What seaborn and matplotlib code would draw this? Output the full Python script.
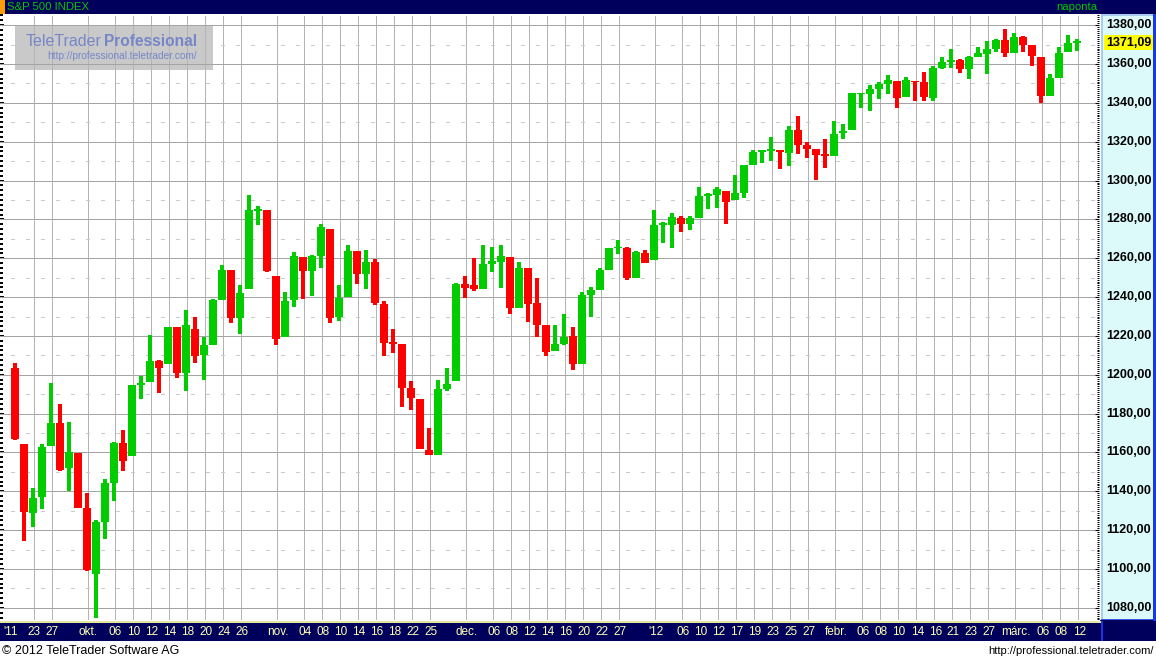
import matplotlib
matplotlib.use("Agg")
import matplotlib.pyplot as plt
from matplotlib.patches import Rectangle
from matplotlib.ticker import MultipleLocator
import seaborn as sns

# S&P 500 daily candles, 2011-09-21 .. 2012-03-12
dates = [
    "2011-09-21", "2011-09-22", "2011-09-23", "2011-09-26", "2011-09-27", "2011-09-28", "2011-09-29", "2011-09-30",
    "2011-10-03", "2011-10-04", "2011-10-05", "2011-10-06", "2011-10-07", "2011-10-10", "2011-10-11", "2011-10-12",
    "2011-10-13", "2011-10-14", "2011-10-17", "2011-10-18", "2011-10-19", "2011-10-20", "2011-10-21", "2011-10-24",
    "2011-10-25", "2011-10-26", "2011-10-27", "2011-10-28", "2011-10-31",
    "2011-11-01", "2011-11-02", "2011-11-03", "2011-11-04", "2011-11-07", "2011-11-08", "2011-11-09", "2011-11-10",
    "2011-11-11", "2011-11-14", "2011-11-15", "2011-11-16", "2011-11-17", "2011-11-18", "2011-11-21", "2011-11-22",
    "2011-11-23", "2011-11-25", "2011-11-28", "2011-11-29", "2011-11-30",
    "2011-12-01", "2011-12-02", "2011-12-05", "2011-12-06", "2011-12-07", "2011-12-08", "2011-12-09", "2011-12-12",
    "2011-12-13", "2011-12-14", "2011-12-15", "2011-12-16", "2011-12-19", "2011-12-20", "2011-12-21", "2011-12-22",
    "2011-12-23", "2011-12-27", "2011-12-28", "2011-12-29", "2011-12-30",
    "2012-01-03", "2012-01-04", "2012-01-05", "2012-01-06", "2012-01-09", "2012-01-10", "2012-01-11", "2012-01-12",
    "2012-01-13", "2012-01-17", "2012-01-18", "2012-01-19", "2012-01-20", "2012-01-23", "2012-01-24", "2012-01-25",
    "2012-01-26", "2012-01-27", "2012-01-30", "2012-01-31",
    "2012-02-01", "2012-02-02", "2012-02-03", "2012-02-06", "2012-02-07", "2012-02-08", "2012-02-09", "2012-02-10",
    "2012-02-13", "2012-02-14", "2012-02-15", "2012-02-16", "2012-02-17", "2012-02-21", "2012-02-22", "2012-02-23",
    "2012-02-24", "2012-02-27", "2012-02-28", "2012-02-29",
    "2012-03-01", "2012-03-02", "2012-03-05", "2012-03-06", "2012-03-07", "2012-03-08", "2012-03-09", "2012-03-12",
]

opens = [
    1203.63, 1164.55, 1128.82, 1136.91, 1163.32, 1175.39, 1151.74, 1159.93,
    1131.21, 1097.42, 1124.03, 1144.11, 1165.03, 1158.15, 1194.60, 1196.19, 1206.96, 1205.65, 1224.47, 1200.75,
    1223.46, 1209.92, 1215.39, 1238.72, 1254.19, 1229.17, 1243.97, 1284.39, 1284.96,
    1251.00, 1219.62, 1238.25, 1260.82, 1253.21, 1261.12, 1275.18, 1229.59, 1240.12, 1263.85, 1251.70, 1257.81,
    1236.56, 1216.19, 1215.62, 1192.98, 1187.48, 1161.41, 1158.67, 1192.56, 1196.72,
    1246.91, 1246.03, 1244.33, 1257.19, 1258.14, 1260.87, 1234.48, 1255.05, 1236.83, 1225.73, 1212.12, 1216.09,
    1219.74, 1205.72, 1241.25, 1243.72, 1254.00, 1265.02, 1265.38, 1249.75, 1262.82,
    1258.86, 1277.03, 1277.30, 1280.93, 1277.83, 1280.77, 1292.02, 1292.48, 1294.82, 1290.22, 1293.65, 1308.07,
    1314.49, 1315.29, 1315.96, 1314.40, 1326.28, 1318.25, 1316.16, 1313.53,
    1312.45, 1324.24, 1326.21, 1344.32, 1344.33, 1347.04, 1349.97, 1351.21, 1343.06, 1351.30, 1350.52, 1342.61,
    1358.06, 1361.22, 1362.11, 1357.53, 1363.46, 1365.20, 1367.56, 1372.20,
    1365.90, 1374.09, 1369.59, 1363.63, 1343.39, 1352.65, 1365.97, 1370.78,
]

highs = [
    1206.30, 1164.55, 1141.72, 1164.19, 1195.86, 1184.71, 1175.87, 1159.93,
    1138.99, 1125.12, 1146.07, 1165.55, 1171.40, 1194.91, 1199.24, 1220.25, 1207.46, 1224.61, 1224.47, 1233.10,
    1229.64, 1219.53, 1239.03, 1256.55, 1254.19, 1246.28, 1292.66, 1287.08, 1284.96,
    1251.00, 1242.48, 1263.21, 1260.82, 1261.70, 1277.55, 1275.18, 1246.22, 1266.98, 1263.85, 1264.25, 1259.61,
    1237.73, 1223.51, 1215.62, 1196.81, 1187.48, 1172.66, 1197.35, 1203.67, 1247.11,
    1251.09, 1260.08, 1266.73, 1266.03, 1267.06, 1260.87, 1258.25, 1255.05, 1249.86, 1225.73, 1225.60, 1231.04,
    1224.57, 1242.82, 1245.09, 1255.22, 1265.42, 1269.37, 1265.85, 1263.54, 1264.12,
    1284.62, 1278.73, 1283.05, 1281.84, 1281.99, 1296.46, 1293.80, 1296.82, 1294.82, 1303.00, 1308.11, 1315.49,
    1315.38, 1322.28, 1315.96, 1328.30, 1333.47, 1320.06, 1316.16, 1321.41,
    1330.52, 1329.19, 1345.34, 1344.36, 1349.24, 1351.00, 1354.32, 1351.21, 1353.35, 1351.30, 1355.87, 1359.02,
    1363.40, 1367.76, 1362.70, 1364.24, 1368.92, 1371.94, 1373.09, 1378.04,
    1376.17, 1374.53, 1369.59, 1363.63, 1354.85, 1368.72, 1374.76, 1373.04,
]

lows = [
    1166.21, 1114.22, 1121.36, 1131.07, 1163.32, 1150.40, 1139.93, 1131.34,
    1098.92, 1074.77, 1115.68, 1134.95, 1150.26, 1158.15, 1187.30, 1196.19, 1190.58, 1205.65, 1198.55, 1191.48,
    1206.31, 1197.34, 1215.39, 1238.72, 1226.79, 1221.06, 1243.97, 1277.01, 1253.16,
    1215.42, 1219.62, 1234.81, 1238.92, 1240.75, 1254.99, 1226.64, 1227.70, 1240.12, 1246.68, 1244.34, 1235.67,
    1209.43, 1211.36, 1183.16, 1181.65, 1161.79, 1158.66, 1158.67, 1191.80, 1196.72,
    1239.73, 1243.35, 1244.33, 1253.03, 1244.80, 1231.47, 1234.48, 1227.25, 1219.43, 1209.47, 1212.12, 1215.20,
    1202.37, 1205.72, 1229.51, 1243.72, 1254.00, 1262.30, 1248.64, 1249.75, 1257.46,
    1258.86, 1268.10, 1265.26, 1273.34, 1274.55, 1280.77, 1285.41, 1285.77, 1277.58, 1290.22, 1290.99, 1308.07,
    1309.17, 1309.89, 1306.06, 1307.65, 1313.60, 1311.72, 1300.49, 1306.69,
    1312.45, 1321.57, 1326.21, 1337.52, 1335.92, 1341.95, 1344.63, 1337.35, 1343.06, 1340.83, 1340.80, 1341.22,
    1357.24, 1358.11, 1355.53, 1352.28, 1363.46, 1354.92, 1365.97, 1363.81,
    1365.90, 1366.42, 1359.13, 1340.03, 1343.39, 1352.65, 1365.97, 1366.69,
]

closes = [
    1166.76, 1129.56, 1136.43, 1162.95, 1175.38, 1151.06, 1160.40, 1131.42,
    1099.23, 1123.95, 1144.03, 1164.97, 1155.46, 1194.89, 1195.54, 1207.25, 1203.66, 1224.58, 1200.86, 1225.38,
    1209.88, 1215.39, 1238.25, 1254.19, 1229.05, 1242.00, 1284.59, 1285.09, 1253.30,
    1218.28, 1237.90, 1261.15, 1253.23, 1261.12, 1275.92, 1229.10, 1239.69, 1263.85, 1251.78, 1257.81, 1236.91,
    1216.13, 1215.65, 1192.98, 1188.04, 1161.79, 1158.67, 1192.55, 1195.19, 1246.96,
    1244.58, 1244.28, 1257.08, 1258.47, 1261.01, 1234.35, 1255.19, 1236.47, 1225.73, 1211.82, 1215.75, 1219.66,
    1205.35, 1241.30, 1243.72, 1254.00, 1265.33, 1265.43, 1249.64, 1263.02, 1257.60,
    1277.06, 1277.30, 1281.06, 1277.81, 1280.70, 1292.08, 1292.48, 1295.50, 1289.09, 1293.67, 1308.04, 1314.50,
    1315.38, 1316.00, 1314.65, 1326.06, 1318.43, 1316.33, 1313.01, 1312.41,
    1324.09, 1325.54, 1344.90, 1344.33, 1347.05, 1349.96, 1351.95, 1342.64, 1351.77, 1350.50, 1343.23, 1358.04,
    1361.23, 1362.21, 1357.66, 1363.46, 1365.74, 1367.59, 1372.18, 1365.68,
    1374.09, 1369.63, 1364.33, 1343.36, 1352.63, 1365.91, 1370.87, 1371.09,
]

# date axis labels
label_dates = [
    "2011-09-23", "2011-09-27",
    "2011-10-03", "2011-10-06", "2011-10-10", "2011-10-12", "2011-10-14", "2011-10-18", "2011-10-20", "2011-10-24", "2011-10-26",
    "2011-11-01", "2011-11-04", "2011-11-08", "2011-11-10", "2011-11-14", "2011-11-16", "2011-11-18", "2011-11-22", "2011-11-25",
    "2011-12-01", "2011-12-06", "2011-12-08", "2011-12-12", "2011-12-14", "2011-12-16", "2011-12-20", "2011-12-22", "2011-12-27",
    "2012-01-03", "2012-01-06", "2012-01-10", "2012-01-12", "2012-01-17", "2012-01-19", "2012-01-23", "2012-01-25", "2012-01-27",
    "2012-02-01", "2012-02-06", "2012-02-08", "2012-02-10", "2012-02-14", "2012-02-16", "2012-02-21", "2012-02-23", "2012-02-27",
    "2012-03-01", "2012-03-06", "2012-03-08", "2012-03-12",
]
label_texts = [
    "23", "27",
    "okt.", "06", "10", "12", "14", "18", "20", "24", "26",
    "nov.", "04", "08", "10", "14", "16", "18", "22", "25",
    "dec.", "06", "08", "12", "14", "16", "20", "22", "27",
    "'12", "06", "10", "12", "17", "19", "23", "25", "27",
    "febr.", "06", "08", "10", "14", "16", "21", "23", "27",
    "márc.", "06", "08", "12",
]
year_label = "'11"

price_ticks = list(range(1080, 1381, 20))
title = "S&P 500 INDEX"
period = "naponta"

sns.set_theme(style="white")
plt.rcParams["font.family"] = ["Liberation Sans", "DejaVu Sans"]

W, H = 1156, 659
NAVY = "#00005c"
GREEN = "#00cc00"
RED = "#ff0000"
LABEL_YELLOW = "#ffffb4"
LOGO = "#7786c8"

fig = plt.figure(figsize=(W / 100, H / 100), dpi=100)
fig.patch.set_facecolor("white")


def rect(x0, y0, x1, y1):
    # pixel box, top-left origin -> figure fractions
    return [x0 / W, 1 - y1 / H, (x1 - x0) / W, (y1 - y0) / H]


def fig_box(x0, y0, x1, y1, color, z=1):
    l, b, w, h = rect(x0, y0, x1, y1)
    fig.add_artist(Rectangle((l, b), w, h, transform=fig.transFigure,
                             fc=color, ec="none", zorder=z))


# ---- main price panel
ax = fig.add_axes(rect(0, 15, 1099, 620))
ax.set_facecolor("white")
xs = list(range(len(dates)))
ax.set_xlim(-15 / 9, (1099 - 15) / 9)
ax.set_ylim(1380 - (620 - 25.2) / 1.942, 1380 + (25.2 - 15) / 1.942)
for s in ax.spines.values():
    s.set_visible(False)
ax.set_xticks([])

label_idx = [dates.index(d) for d in label_dates]
for i in label_idx:
    ax.axvline(i + 0.15, color="#b4b4b4", lw=0.72, ls=(0, (1, 1)), zorder=1, antialiased=False)
for v in price_ticks:
    ax.axhline(v, color="#a4a4a4", lw=0.72, ls=(0, (1, 1)), zorder=1, antialiased=False)
for v in range(1090, 1380, 20):
    ax.axhline(v, color="#cacaca", lw=0.72, ls=(4, (4, 11)), zorder=1, antialiased=False)

# candles
colors = [GREEN if c >= o else RED for o, c in zip(opens, closes)]
bottoms = [min(o, c) for o, c in zip(opens, closes)]
heights = [max(abs(c - o), 1.0) for o, c in zip(opens, closes)]
ax.vlines(xs, lows, highs, colors=colors, lw=1.45, zorder=3, antialiased=False)
ax.bar(xs, heights, bottom=bottoms, width=0.78, color=colors, linewidth=0,
       zorder=4, antialiased=False)

# left edge ticks
ax.yaxis.set_major_locator(MultipleLocator(20))
ax.yaxis.set_minor_locator(MultipleLocator(2.5))
ax.tick_params(axis="y", which="major", direction="in", length=3.0, width=1.4,
               color="black", left=True, labelleft=False)
ax.tick_params(axis="y", which="minor", direction="in", length=2.2, width=1.4,
               color="black", left=True)

# right edge ticks
axt = ax.twinx()
axt.set_ylim(ax.get_ylim())
for s in axt.spines.values():
    s.set_visible(False)
axt.yaxis.set_major_locator(MultipleLocator(20))
axt.yaxis.set_minor_locator(MultipleLocator(1))
axt.tick_params(axis="y", which="major", direction="in", length=3.2, width=0.8,
                color="black", right=True, labelright=False)
axt.tick_params(axis="y", which="minor", direction="in", length=1.5, width=0.72,
                color="black", right=True)

# logo
l, b, w, h = rect(15, 25, 213, 70)
ax.add_patch(Rectangle((l, b), w, h, transform=fig.transFigure, fc="#c9c9c9",
                       ec="none", zorder=0.5, clip_on=False))
fig.text(26 / W, 1 - 41 / H, "TeleTrader", color=LOGO, fontsize=11.5, va="center")
fig.text(104 / W, 1 - 41 / H, "Professional", color=LOGO, fontsize=11.2,
         fontweight="bold", va="center")
fig.text(47 / W, 1 - 56 / H, "http://professional.teletrader.com/", color=LOGO,
         fontsize=7.3, va="center")

# ---- price label panel
axp = fig.add_axes(rect(1102, 15, 1154, 620))
axp.set_facecolor("#dcfafa")
axp.set_ylim(ax.get_ylim())
axp.set_xticks([])
axp.set_yticks([])
for side, col in [("left", "#9cc4f0"), ("top", "#9cc4f0"),
                  ("right", "#1838e0"), ("bottom", "#1838e0")]:
    axp.spines[side].set_color(col)
    axp.spines[side].set_linewidth(1.2)
ytr = axp.get_yaxis_transform()
for v in price_ticks:
    axp.text(0.08, v, f"{v:.2f}".replace(".", ","), transform=ytr, ha="left",
             va="center", fontsize=9, fontweight="bold", color="black")
last = closes[-1]
axp.text(0.08, last, f"{last:.2f}".replace(".", ","), transform=ytr, ha="left",
         va="center", fontsize=9, fontweight="bold", color="black", zorder=5,
         bbox=dict(boxstyle="square,pad=0.15", fc="#ffff00", ec="none"))

# ---- date band
axd = fig.add_axes(rect(0, 622, 1100, 641))
axd.set_facecolor(NAVY)
axd.set_xlim(ax.get_xlim())
axd.set_ylim(0, 1)
axd.set_xticks([])
axd.set_yticks([])
for s in axd.spines.values():
    s.set_visible(False)
xtr = axd.get_xaxis_transform()
for i, t in zip(label_idx, label_texts):
    axd.text(i + 0.15, 0.45, t, transform=xtr, ha="center", va="center",
             fontsize=8.5, color=LABEL_YELLOW)
axd.text(-0.5, 0.45, year_label, transform=xtr, ha="center", va="center",
         fontsize=8.5, color=LABEL_YELLOW)

fig_box(0, 621, 1102, 623, "#e6e6a0", z=3)
fig_box(1100, 620, 1156, 641, NAVY, z=2)
fig_box(1101, 621, 1103, 641, "#1838e0", z=3)

# ---- title bar and frame
fig_box(0, 0, 1156, 14, NAVY, z=2)
fig_box(0, 0, 5, 14, "#ff9c00", z=3)
fig_box(1153, 14, 1156, 621, "#1838e0", z=3)
fig.text(7 / W, 1 - 7 / H, title, color="#00c800", fontsize=8.2, va="center", zorder=4)
fig.text(1097 / W, 1 - 7 / H, period, color="#00c800", fontsize=8.2, va="center",
         ha="right", zorder=4)

# ---- footer
fig.text(2 / W, 1 - 651 / H, "© 2012 TeleTrader Software AG", fontsize=9,
         color="black", va="center")
fig.text(1154 / W, 1 - 651 / H, "http://professional.teletrader.com/", fontsize=8,
         color="black", va="center", ha="right")

fig.savefig("out.png", dpi=100)
